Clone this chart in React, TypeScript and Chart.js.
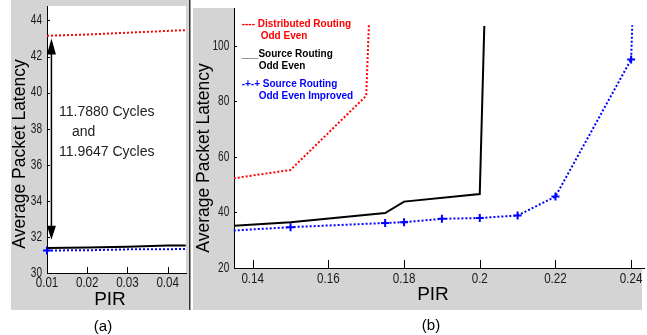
import React, { useEffect, useRef } from "react";
import { Chart, registerables } from "chart.js";

Chart.register(...registerables);

// ---------- Panel (a) data ----------
const pirA = [0.01, 0.02, 0.03, 0.04, 0.0445];
const distributedA = [43.15, 43.22, 43.32, 43.42, 43.46];
const sourceA = [31.39, 31.41, 31.46, 31.52, 31.53];
const improvedA = [31.25, 31.26, 31.31, 31.32, 31.33];
const improvedMarkA = [true, false, false, false, false];
const xTicksA = [0.01, 0.02, 0.03, 0.04];
const yTicksA = [30, 32, 34, 36, 38, 40, 42, 44];
const annotationA = ["11.7880 Cycles", "and", "11.9647 Cycles"];

// ---------- Panel (b) data ----------
const pirDistributedB = [0.135, 0.15, 0.17, 0.1707];
const distributedB = [52.3, 55.3, 82.0, 107.4];
const pirSourceB = [0.135, 0.15, 0.175, 0.18, 0.2, 0.2012];
const sourceB = [35.2, 36.5, 39.8, 43.9, 46.6, 107.1];
const pirImprovedB = [0.135, 0.15, 0.175, 0.18, 0.19, 0.2, 0.21, 0.22, 0.24, 0.2403];
const improvedB = [33.5, 34.7, 36.2, 36.5, 37.7, 38.0, 38.9, 45.7, 95.1, 107.4];
const improvedMarkB = [false, true, true, true, true, true, true, true, true, false];
const xTicksB = [0.14, 0.16, 0.18, 0.2, 0.22, 0.24];
const yTicksB = [20, 40, 60, 80, 100];
const legendB = [
  { lines: ["---- Distributed Routing", "Odd Even"], color: "#ff0000", indent: 19 },
  { lines: ["___Source Routing", "Odd Even"], color: "#000000", indent: 17 },
  { lines: ["-+-+ Source Routing", "Odd Even Improved"], color: "#0000ff", indent: 17 },
];

const yTitle = "Average Packet Latency";
const xTitle = "PIR";

const GRAY = "#d4d4d4";
const SANS = "'Liberation Sans', Arial, sans-serif";
const TICK_FONT = `14px ${SANS}`;

const pts = (xs: number[], ys: number[]) => xs.map((x, i) => ({ x, y: ys[i] }));
const fmt = (v: number) => String(parseFloat(Number(v).toFixed(4)));

function drawText(ctx: any, text: string, x: number, y: number, font: string, color: string, align = "center", rotate = 0, sx = 1) {
  ctx.save();
  ctx.translate(x, y);
  if (rotate) ctx.rotate(rotate);
  if (sx !== 1) ctx.scale(sx, 1);
  ctx.font = font;
  ctx.fillStyle = color;
  ctx.textAlign = align;
  ctx.textBaseline = "middle";
  ctx.fillText(text, 0, 0);
  ctx.restore();
}

// tick marks (inward) and condensed tick labels
function drawAxes(chart: any, xLen: number, yLen: number, xLabelY: number, yLabelX: number) {
  const { ctx, chartArea: a } = chart;
  const xs = chart.scales.x;
  const ys = chart.scales.y;
  ctx.save();
  ctx.strokeStyle = "#000";
  ctx.lineWidth = 1;
  ctx.beginPath();
  xs.ticks.forEach((t: any) => {
    const px = Math.round(xs.getPixelForValue(t.value)) + 0.5;
    ctx.moveTo(px, a.bottom);
    ctx.lineTo(px, a.bottom - xLen);
  });
  ys.ticks.forEach((t: any) => {
    const py = Math.round(ys.getPixelForValue(t.value)) + 0.5;
    ctx.moveTo(a.left, py);
    ctx.lineTo(a.left + yLen, py);
  });
  ctx.stroke();
  ctx.restore();
  xs.ticks.forEach((t: any) => {
    drawText(ctx, fmt(t.value), xs.getPixelForValue(t.value), xLabelY, TICK_FONT, "#1a1a1a", "center", 0, 0.83);
  });
  ys.ticks.forEach((t: any) => {
    drawText(ctx, fmt(t.value), yLabelX, ys.getPixelForValue(t.value), TICK_FONT, "#1a1a1a", "right", 0, 0.72);
  });
}

function scaleOpts(min: number, max: number, ticks: number[], size: number, isX: boolean) {
  return {
    type: "linear",
    min,
    max,
    afterFit: (s: any) => {
      if (isX) s.height = size;
      else s.width = size;
    },
    afterBuildTicks: (s: any) => {
      s.ticks = ticks.map((v) => ({ value: v }));
    },
    grid: { display: false, drawTicks: false },
    border: { display: true, color: "#000", width: 1 },
    ticks: { display: false, autoSkip: false, maxRotation: 0 },
  };
}

function ChartA() {
  const ref = useRef<HTMLCanvasElement>(null);
  useEffect(() => {
    const plugin = {
      id: "panelA",
      beforeDraw(chart: any) {
        const { ctx, chartArea: a } = chart;
        ctx.save();
        ctx.fillStyle = "#fff";
        ctx.fillRect(0, 0, chart.width, chart.height);
        ctx.fillStyle = GRAY;
        ctx.fillRect(11, 0, 178, 310);
        ctx.fillStyle = "#fff";
        ctx.fillRect(a.left, a.top, a.right - a.left, a.bottom - a.top);
        ctx.restore();
      },
      afterDraw(chart: any) {
        const { ctx } = chart;
        const xs = chart.scales.x;
        const ys = chart.scales.y;
        drawAxes(chart, 6, 3, 283.5, 42);
        // separator line
        ctx.save();
        ctx.strokeStyle = "#333";
        ctx.lineWidth = 1.5;
        ctx.beginPath();
        ctx.moveTo(189.75, 0);
        ctx.lineTo(189.75, 310);
        ctx.stroke();
        // double arrow
        const ax = xs.getPixelForValue(0.0111);
        const yTop = ys.getPixelForValue(43.0);
        const yBot = ys.getPixelForValue(31.85);
        ctx.strokeStyle = "#000";
        ctx.fillStyle = "#000";
        ctx.lineWidth = 1.5;
        ctx.beginPath();
        ctx.moveTo(ax, yTop + 10);
        ctx.lineTo(ax, yBot - 10);
        ctx.stroke();
        ctx.beginPath();
        ctx.moveTo(ax, yTop);
        ctx.lineTo(ax - 4.5, yTop + 16);
        ctx.lineTo(ax + 4.5, yTop + 16);
        ctx.closePath();
        ctx.fill();
        ctx.beginPath();
        ctx.moveTo(ax, yBot);
        ctx.lineTo(ax - 4.5, yBot - 14);
        ctx.lineTo(ax + 4.5, yBot - 14);
        ctx.closePath();
        ctx.fill();
        ctx.restore();
        const f = `14px ${SANS}`;
        drawText(ctx, annotationA[0], 59, 112, f, "#222", "left");
        drawText(ctx, annotationA[1], 72, 132, f, "#222", "left");
        drawText(ctx, annotationA[2], 59, 152, f, "#222", "left");
        drawText(ctx, yTitle, 20, 154, `17.5px ${SANS}`, "#000", "center", -Math.PI / 2);
        drawText(ctx, xTitle, 110, 300, `19px ${SANS}`, "#000");
        drawText(ctx, "(a)", 103, 327, `15px ${SANS}`, "#000");
      },
    };
    const chart = new Chart(ref.current as HTMLCanvasElement, {
      type: "line",
      data: {
        datasets: [
          {
            data: pts(pirA, distributedA),
            borderColor: "#ff0000",
            borderWidth: 2,
            borderDash: [2, 2],
            pointRadius: 0,
            tension: 0,
          },
          {
            data: pts(pirA, sourceA),
            borderColor: "#000",
            borderWidth: 2,
            pointRadius: 0,
            tension: 0,
          },
          {
            data: pts(pirA, improvedA),
            borderColor: "#0000ff",
            borderWidth: 2,
            borderDash: [2, 2],
            pointStyle: "cross",
            pointRadius: improvedMarkA.map((m) => (m ? 4 : 0)),
            pointBorderWidth: 2,
            pointBorderColor: "#0000ff",
            tension: 0,
            clip: false,
          },
        ],
      },
      options: {
        animation: false,
        responsive: false,
        events: [],
        layout: { padding: { left: 0, right: 3, top: 0, bottom: 0 } },
        plugins: { legend: { display: false }, tooltip: { enabled: false } },
        scales: {
          x: scaleOpts(0.01, 0.04455, xTicksA, 62, true),
          y: scaleOpts(30, 44.8, yTicksA, 47, false),
        },
      } as any,
      plugins: [plugin],
    });
    return () => chart.destroy();
  }, []);
  return <canvas ref={ref} width={192} height={335} style={{ position: "absolute", left: 0, top: 0, width: 192, height: 335 }} />;
}

function ChartB() {
  const ref = useRef<HTMLCanvasElement>(null);
  useEffect(() => {
    const plugin = {
      id: "panelB",
      beforeDraw(chart: any) {
        const { ctx, chartArea: a } = chart;
        ctx.save();
        ctx.fillStyle = "#fff";
        ctx.fillRect(0, 0, chart.width, chart.height);
        ctx.fillStyle = GRAY;
        ctx.fillRect(1, 8, 449, 302);
        ctx.fillStyle = "#fff";
        ctx.fillRect(a.left, a.top, a.right - a.left, a.bottom - a.top);
        ctx.restore();
      },
      afterDraw(chart: any) {
        const { ctx } = chart;
        drawAxes(chart, 8, 3, 279, 37.3);
        drawText(ctx, yTitle, 12.5, 158, `17.5px ${SANS}`, "#000", "center", -Math.PI / 2);
        drawText(ctx, xTitle, 241, 295, `19px ${SANS}`, "#000");
        drawText(ctx, "(b)", 239, 326, `15px ${SANS}`, "#000");
        const lf = `bold 10px ${SANS}`;
        const tops = [24.7, 54.3, 84.3];
        legendB.forEach((item, i) => {
          drawText(ctx, item.lines[0], 49.7, tops[i], lf, item.color, "left");
          drawText(ctx, item.lines[1], 49.7 + item.indent, tops[i] + 12, lf, item.color, "left");
        });
      },
    };
    const chart = new Chart(ref.current as HTMLCanvasElement, {
      type: "line",
      data: {
        datasets: [
          {
            data: pts(pirDistributedB, distributedB),
            borderColor: "#ff0000",
            borderWidth: 2,
            borderDash: [2, 2],
            pointRadius: 0,
            tension: 0,
          },
          {
            data: pts(pirSourceB, sourceB),
            borderColor: "#000",
            borderWidth: 2,
            pointRadius: 0,
            tension: 0,
          },
          {
            data: pts(pirImprovedB, improvedB),
            borderColor: "#0000ff",
            borderWidth: 2,
            borderDash: [2, 2],
            pointStyle: "cross",
            pointRadius: improvedMarkB.map((m) => (m ? 4 : 0)),
            pointBorderWidth: 2,
            pointBorderColor: "#0000ff",
            tension: 0,
            clip: false,
          },
        ],
      },
      options: {
        animation: false,
        responsive: false,
        events: [],
        layout: { padding: { left: 0, right: 3, top: 8, bottom: 0 } },
        plugins: { legend: { display: false }, tooltip: { enabled: false } },
        scales: {
          x: scaleOpts(0.13506, 0.2434, xTicksB, 67, true),
          y: scaleOpts(20, 113.6, yTicksB, 42, false),
        },
      } as any,
      plugins: [plugin],
    });
    return () => chart.destroy();
  }, []);
  return <canvas ref={ref} width={455} height={335} style={{ position: "absolute", left: 192, top: 0, width: 455, height: 335 }} />;
}

export default function App() {
  return (
    <div style={{ position: "fixed", left: 0, top: 0, width: 647, height: 335, background: "#fff", overflow: "hidden" }}>
      <ChartA />
      <ChartB />
    </div>
  );
}
